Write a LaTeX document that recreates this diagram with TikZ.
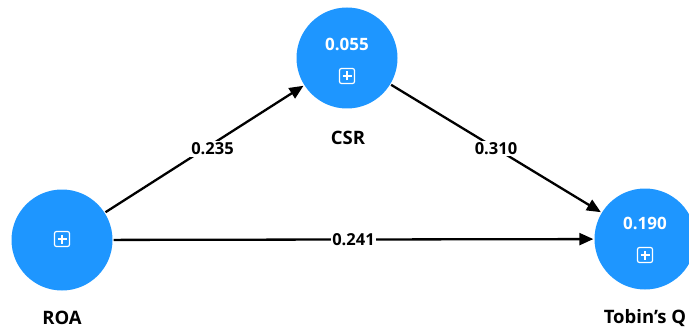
\documentclass[tikz,border=0pt]{standalone}
\usepackage{fontspec}
\setmainfont{Open Sans}
\usetikzlibrary{arrows.meta,positioning}

\definecolor{latentblue}{HTML}{1E96FF}

\begin{document}
\begin{tikzpicture}[x=1pt, y=-1pt, line width=2.3pt,
    main node/.style={circle, fill=latentblue, minimum size=101pt, inner sep=0pt},
    value text/.style={text=white, font=\bfseries\fontsize{17}{19}\selectfont},
    name text/.style={font=\bfseries\fontsize{18.5}{20}\selectfont},
    path label/.style={fill=white, inner sep=1.5pt, font=\bfseries\fontsize{16.5}{18}\selectfont},
    plus box/.style={draw=white, line width=1.2pt, rounded corners=2pt, minimum size=15pt, inner sep=0pt,
        path picture={\draw[white, line width=1.2pt] ([xshift=-4.5pt]path picture bounding box.center) -- ([xshift=4.5pt]path picture bounding box.center)
            ([yshift=-4.5pt]path picture bounding box.center) -- ([yshift=4.5pt]path picture bounding box.center);}},
    >={Triangle[length=14pt, width=12pt]}]

    \useasboundingbox (0,0) rectangle (689,329);

    % constructs
    \node[main node] at (62, 240) (roa) {};
    \node[main node] at (347, 58) (csr) {};
    \node[main node] at (645, 239) (tobin) {};

    % R squared and expand icons
    \node[value text] at (347, 44) (csr r2) {0.055};
    \node[plus box] at (347, 76) (csr icon) {};
    \node[plus box] at (62, 239) (roa icon) {};
    \node[value text] at (645, 223) (tobin r2) {0.190};
    \node[plus box] at (645, 255) (tobin icon) {};

    % construct names
    \node[name text] at (62, 318) (roa name) {ROA};
    \node[name text] at (348, 138) (csr name) {CSR};
    \node[name text] at (645, 318) (tobin name) {Tobin{\char"0027}s Q};

    % path coefficients
    \path[->] (roa) edge node[path label, xshift=8pt] {0.235} (csr);
    \path[->] (csr) edge node[path label] {0.310} (tobin);
    \path[->] (roa) edge node[path label] {0.241} (tobin);
\end{tikzpicture}
\end{document}
